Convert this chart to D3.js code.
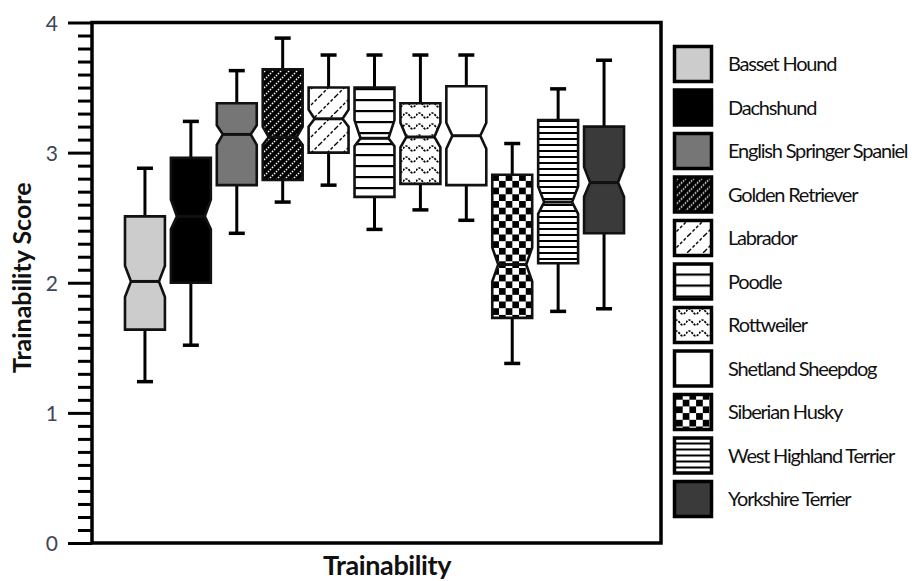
<!DOCTYPE html>
<html>
<head>
<meta charset="utf-8">
<script src="https://cdn.jsdelivr.net/npm/d3@7"></script>
<style>
  body { margin: 0; background: #fff; }
  svg { display: block; }
</style>
</head>
<body>
<div id="chart"></div>
<script>
// breeds and the box plot values
var breeds = ["Basset Hound", "Dachshund", "English Springer Spaniel", "Golden Retriever",
  "Labrador", "Poodle", "Rottweiler", "Shetland Sheepdog", "Siberian Husky",
  "West Highland Terrier", "Yorkshire Terrier"];
var whiskerLow  = [1.24, 1.52, 2.38, 2.62, 2.75, 2.41, 2.56, 2.48, 1.38, 1.78, 1.80];
var q1          = [1.64, 2.00, 2.75, 2.79, 3.00, 2.66, 2.76, 2.75, 1.73, 2.15, 2.38];
var notchLow    = [1.89, 2.41, 3.06, 3.06, 3.20, 3.05, 3.04, 3.03, 2.01, 2.53, 2.66];
var median      = [2.01, 2.51, 3.14, 3.12, 3.26, 3.11, 3.12, 3.13, 2.14, 2.62, 2.77];
var notchHigh   = [2.13, 2.64, 3.21, 3.20, 3.33, 3.25, 3.23, 3.23, 2.27, 2.74, 2.89];
var q3          = [2.51, 2.96, 3.38, 3.64, 3.50, 3.50, 3.38, 3.51, 2.83, 3.25, 3.20];
var whiskerHigh = [2.88, 3.24, 3.63, 3.88, 3.75, 3.75, 3.75, 3.75, 3.07, 3.49, 3.71];
var yTicks = [0, 1, 2, 3, 4];

var width = 912, height = 581;
var plotL = 92, plotR = 661, plotT = 22.5, plotB = 543;

var svg = d3.select('#chart').append('svg')
  .attr('width', width)
  .attr('height', height);

var x = d3.scaleBand().domain(breeds).range([122, 627]).paddingInner(0.13).paddingOuter(0.065);
var y = d3.scaleLinear().domain([0, 4]).range([plotB, plotT]);

// fill patterns
var defs = svg.append('defs');

var p = defs.append('pattern').attr('id', 'golden').attr('patternUnits', 'userSpaceOnUse')
  .attr('width', 8).attr('height', 8);
p.append('rect').attr('width', 8).attr('height', 8).attr('fill', '#000');
p.append('path').attr('d', 'M-2,2 L2,-2 M0,8 L8,0 M6,10 L10,6')
  .attr('stroke', '#fff').attr('stroke-width', 1.4).attr('stroke-dasharray', '1.6,1.2');

p = defs.append('pattern').attr('id', 'labrador').attr('patternUnits', 'userSpaceOnUse')
  .attr('width', 16).attr('height', 16);
p.append('rect').attr('width', 16).attr('height', 16).attr('fill', '#fff');
p.append('path').attr('d', 'M-4,4 L4,-4 M0,16 L16,0 M12,20 L20,12')
  .attr('stroke', '#000').attr('stroke-width', 1.4).attr('stroke-dasharray', '3,2');

p = defs.append('pattern').attr('id', 'poodle').attr('patternUnits', 'userSpaceOnUse')
  .attr('width', 10).attr('height', 11);
p.append('rect').attr('width', 10).attr('height', 11).attr('fill', '#fff');
p.append('rect').attr('y', 0).attr('width', 10).attr('height', 2.2).attr('fill', '#000');

p = defs.append('pattern').attr('id', 'rott').attr('patternUnits', 'userSpaceOnUse')
  .attr('width', 13).attr('height', 11);
p.append('rect').attr('width', 13).attr('height', 11).attr('fill', '#fff');
p.append('path').attr('d', 'M0,5.5 Q3.25,0.5 6.5,5.5 T13,5.5')
  .attr('fill', 'none').attr('stroke', '#000').attr('stroke-width', 1.7).attr('stroke-dasharray', '2.2,1.2');

p = defs.append('pattern').attr('id', 'husky').attr('patternUnits', 'userSpaceOnUse')
  .attr('x', x(breeds[8])).attr('width', 13.4).attr('height', 13.4);
p.append('rect').attr('width', 13.4).attr('height', 13.4).attr('fill', '#fff');
p.append('rect').attr('width', 6.7).attr('height', 6.7).attr('fill', '#000');
p.append('rect').attr('x', 6.7).attr('y', 6.7).attr('width', 6.7).attr('height', 6.7).attr('fill', '#000');

p = defs.append('pattern').attr('id', 'husky-leg').attr('patternUnits', 'userSpaceOnUse')
  .attr('x', 673).attr('width', 13.4).attr('height', 13.4);
p.append('rect').attr('width', 13.4).attr('height', 13.4).attr('fill', '#fff');
p.append('rect').attr('width', 6.7).attr('height', 6.7).attr('fill', '#000');
p.append('rect').attr('x', 6.7).attr('y', 6.7).attr('width', 6.7).attr('height', 6.7).attr('fill', '#000');

p = defs.append('pattern').attr('id', 'wht').attr('patternUnits', 'userSpaceOnUse')
  .attr('width', 10).attr('height', 6);
p.append('rect').attr('width', 10).attr('height', 6).attr('fill', '#fff');
p.append('rect').attr('width', 10).attr('height', 2).attr('fill', '#000');

var fills = ['#cccccc', '#000000', '#767676', 'url(#golden)', 'url(#labrador)', 'url(#poodle)',
  'url(#rott)', '#ffffff', 'url(#husky)', 'url(#wht)', '#3a3a3a'];
var legendFills = fills.slice();
legendFills[8] = 'url(#husky-leg)';

// y axis with minor ticks
var minor = d3.range(0, 40).filter(function (d) { return d % 10 != 0; }).map(function (d) { return d / 10; });
svg.append('g').attr('transform', 'translate(' + plotL + ',0)')
  .call(d3.axisLeft(y).tickValues(minor).tickSize(14).tickFormat(''))
  .call(function (g) { g.select('.domain').remove(); })
  .selectAll('line').attr('stroke', '#000').attr('stroke-width', 3);

var yAxis = svg.append('g').attr('transform', 'translate(' + plotL + ',0)')
  .call(d3.axisLeft(y).tickValues(yTicks).tickSize(24).tickPadding(10).tickFormat(d3.format('d')));
yAxis.select('.domain').remove();
yAxis.selectAll('line').attr('stroke', '#000').attr('stroke-width', 3);
yAxis.selectAll('text').attr('fill', '#3d4556').style('font-family', 'Lato, sans-serif')
  .style('font-size', '21px').attr('dy', '0.36em');

// frame
svg.append('path')
  .attr('d', 'M' + plotL + ',' + plotT + 'H' + plotR + 'V' + plotB + 'H' + plotL + 'Z')
  .attr('fill', 'none').attr('stroke', '#000').attr('stroke-width', 3.5);

// boxes
var capW = 16, indent = 6;
var boxes = svg.append('g').selectAll('g').data(breeds).enter().append('g');

boxes.each(function (b, i) {
  var g = d3.select(this);
  var x0 = x(b), w = x.bandwidth(), cx = x0 + w / 2;
  g.append('line').attr('x1', cx).attr('x2', cx).attr('y1', y(whiskerHigh[i])).attr('y2', y(q3[i]))
    .attr('stroke', '#000').attr('stroke-width', 3);
  g.append('line').attr('x1', cx).attr('x2', cx).attr('y1', y(whiskerLow[i])).attr('y2', y(q1[i]))
    .attr('stroke', '#000').attr('stroke-width', 3);
  g.append('line').attr('x1', cx - capW / 2).attr('x2', cx + capW / 2)
    .attr('y1', y(whiskerHigh[i])).attr('y2', y(whiskerHigh[i]))
    .attr('stroke', '#000').attr('stroke-width', 3.5);
  g.append('line').attr('x1', cx - capW / 2).attr('x2', cx + capW / 2)
    .attr('y1', y(whiskerLow[i])).attr('y2', y(whiskerLow[i]))
    .attr('stroke', '#000').attr('stroke-width', 3.5);

  var pts = [
    [x0, y(q3[i])], [x0 + w, y(q3[i])], [x0 + w, y(notchHigh[i])], [x0 + w - indent, y(median[i])],
    [x0 + w, y(notchLow[i])], [x0 + w, y(q1[i])], [x0, y(q1[i])], [x0, y(notchLow[i])],
    [x0 + indent, y(median[i])], [x0, y(notchHigh[i])]
  ];
  g.append('path').attr('d', d3.line()(pts) + 'Z')
    .attr('fill', fills[i]).attr('stroke', '#111').attr('stroke-width', 2.6)
    .attr('stroke-linejoin', 'miter');
  g.append('line').attr('x1', x0 + indent).attr('x2', x0 + w - indent)
    .attr('y1', y(median[i])).attr('y2', y(median[i]))
    .attr('stroke', '#111').attr('stroke-width', 3);
});

// legend
var legend = svg.append('g').selectAll('g').data(breeds).enter().append('g')
  .attr('transform', function (d, i) { return 'translate(673,' + (45 + i * 43.5) + ')'; });
legend.append('rect').attr('x', 1.5).attr('y', 1.5).attr('width', 37).attr('height', 35)
  .attr('fill', function (d, i) { return legendFills[i]; })
  .attr('stroke', '#000').attr('stroke-width', 3.5);
legend.append('text').attr('x', 55).attr('y', 19).attr('dy', '0.35em')
  .style('font-family', 'Lato, sans-serif').style('font-size', '20px')
  .style('letter-spacing', '-1.2px').attr('fill', '#111')
  .text(function (d) { return d; });

// axis titles
svg.append('text').attr('transform', 'translate(31,' + ((plotT + plotB) / 2 - 5) + ') rotate(-90)')
  .attr('text-anchor', 'middle')
  .style('font-family', 'Lato, sans-serif').style('font-weight', 'bold').style('font-size', '25px')
  .attr('fill', '#111').text('Trainability Score');
svg.append('text').attr('x', 387).attr('y', 575).attr('text-anchor', 'middle')
  .style('font-family', 'Lato, sans-serif').style('font-weight', 'bold').style('font-size', '27px')
  .style('letter-spacing', '-0.4px')
  .attr('fill', '#111').text('Trainability');
</script>
</body>
</html>
